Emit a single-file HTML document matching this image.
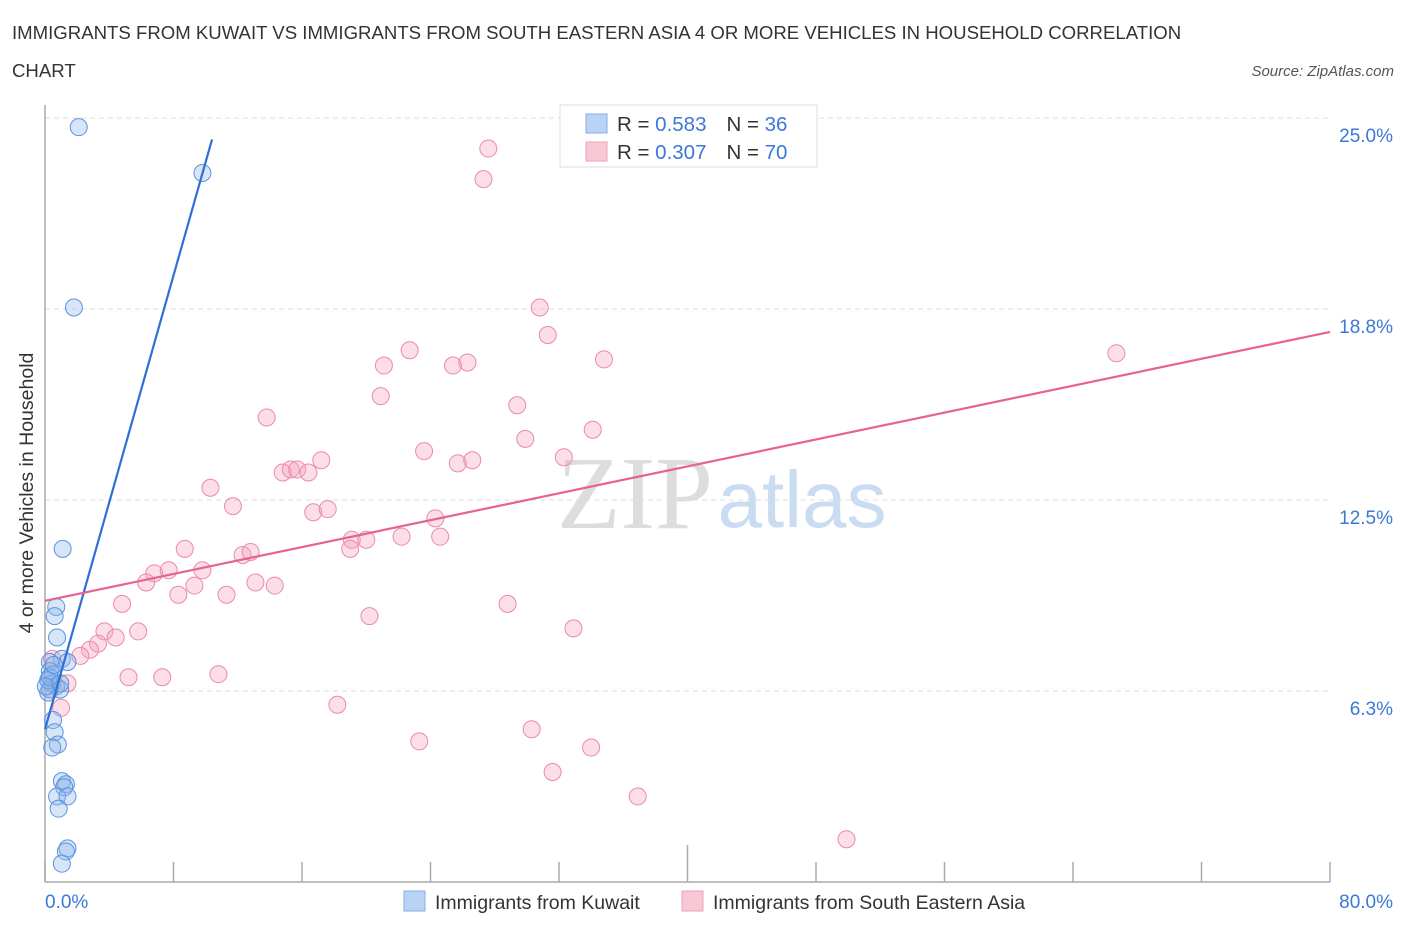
<!DOCTYPE html>
<html><head><meta charset="utf-8"><style>
body{margin:0;background:#fff;font-family:"Liberation Sans",sans-serif}
</style></head><body>
<svg width="1406" height="930" xmlns="http://www.w3.org/2000/svg">
<text x="12" y="39" font-size="18.6" fill="#333">IMMIGRANTS FROM KUWAIT VS IMMIGRANTS FROM SOUTH EASTERN ASIA 4 OR MORE VEHICLES IN HOUSEHOLD CORRELATION</text>
<text x="12" y="77" font-size="18.6" fill="#333">CHART</text>
<text x="1394" y="76" font-size="15" fill="#555" font-style="italic" text-anchor="end">Source: ZipAtlas.com</text>
<text x="635" y="528" font-size="104" fill="#ddd" font-family="Liberation Serif,serif" text-anchor="middle">ZIP</text>
<text x="802" y="527" font-size="80" fill="#c9dcf2" text-anchor="middle">atlas</text>
<g id="grid"></g>
<g id="axes"></g>
<g id="pts"></g>
<g id="lines"></g>
<text x="33" y="493" font-size="19.5" fill="#333" text-anchor="middle" transform="rotate(-90 33 493)">4 or more Vehicles in Household</text>
<text x="45" y="908" font-size="19" fill="#3b78d8">0.0%</text>
<text x="1393" y="908" font-size="19" fill="#3b78d8" text-anchor="end">80.0%</text>
<g>
<rect x="560" y="105" width="257" height="62" fill="#fff" stroke="#ddd"/>
<rect x="586" y="114" width="21" height="19" fill="#b9d3f5" stroke="#86aee6"/>
<rect x="586" y="142" width="21" height="19" fill="#f9c8d6" stroke="#eea0b7"/>
<text x="617" y="131" font-size="20.5" fill="#333">R = <tspan fill="#3b78d8">0.583</tspan><tspan dx="20">N = </tspan><tspan fill="#3b78d8">36</tspan></text>
<text x="617" y="159" font-size="20.5" fill="#333">R = <tspan fill="#3b78d8">0.307</tspan><tspan dx="20">N = </tspan><tspan fill="#3b78d8">70</tspan></text>
</g>
<g>
<rect x="404" y="891" width="21" height="20" fill="#b9d3f5" stroke="#86aee6"/>
<text x="435" y="909" font-size="19.5" fill="#333">Immigrants from Kuwait</text>
<rect x="682" y="891" width="21" height="20" fill="#f9c8d6" stroke="#eea0b7"/>
<text x="713" y="909" font-size="19.5" fill="#333">Immigrants from South Eastern Asia</text>
</g>
</svg>
<script>
const yTicks=[6.25,12.5,18.75,25];
const yTickLabels=["6.3%","12.5%","18.8%","25.0%"];
const xTicks=[0,8,16,24,32,40,48,56,64,72,80];
const kuwaitX=[2.1,9.8,1.8,1.1,0.7,0.6,0.75,1.05,0.3,1.4,0.3,0.5,0.2,0.45,0.7,0.95,0.3,0.2,0.5,0.6,0.8,0.45,1.05,1.3,1.2,0.75,1.4,0.85,1.4,1.3,1.05,0.2,0.3,0.05,0.55,0.95];
const kuwaitY=[24.7,23.2,18.8,10.9,9.0,8.7,8.0,7.3,7.2,7.2,6.9,6.8,6.6,6.5,6.4,6.3,6.3,6.2,5.3,4.9,4.5,4.4,3.3,3.2,3.1,2.8,2.8,2.4,1.1,1.0,0.6,6.6,6.7,6.4,7.1,6.5];
const seaX=[27.6,27.3,30.8,31.3,22.7,21.1,25.4,26.3,34.8,66.7,20.9,29.4,13.8,29.9,34.1,23.6,25.7,26.6,32.3,17.2,14.8,15.3,15.7,16.4,10.3,11.7,16.7,17.6,24.3,19.1,20.0,22.2,24.6,19.0,8.7,12.3,12.8,6.8,7.7,9.8,6.3,13.1,14.3,9.3,8.3,11.3,4.8,28.8,20.2,32.9,5.8,3.7,4.4,3.3,2.8,2.2,5.2,7.3,10.8,0.45,18.2,23.3,30.3,34.0,31.6,36.9,49.9,1.4,1.0,0.3];
const seaY=[24.0,23.0,18.8,17.9,17.4,16.9,16.9,17.0,17.1,17.3,15.9,15.6,15.2,14.5,14.8,14.1,13.7,13.8,13.9,13.8,13.4,13.5,13.5,13.4,12.9,12.3,12.1,12.2,11.9,11.2,11.2,11.3,11.3,10.9,10.9,10.7,10.8,10.1,10.2,10.2,9.8,9.8,9.7,9.7,9.4,9.4,9.1,9.1,8.7,8.3,8.2,8.2,8.0,7.8,7.6,7.4,6.7,6.7,6.8,7.3,5.8,4.6,5.0,4.4,3.6,2.8,1.4,6.5,5.7,6.3];
const kuwaitLineX=[0,10.4];const kuwaitLineY=[5.0,24.3];
const seaLineX=[0,80];const seaLineY=[9.2,18.0];
const X=v=>45+v/80*1285, Y=v=>882-v*30.56;
const NS="http://www.w3.org/2000/svg";
function mk(t,a,p){const e=document.createElementNS(NS,t);for(const k in a)e.setAttribute(k,a[k]);document.getElementById(p).appendChild(e);return e;}
yTicks.forEach((t,i)=>{
 const g=mk('line',{x1:45,x2:1330,y1:Y(t),y2:Y(t),stroke:'#ddd','stroke-dasharray':'5,4'},'grid');
 
 
 const l=mk('text',{x:1393,y:Y(t)+24,'font-size':19,fill:'#3b78d8','text-anchor':'end'},'grid');
 l.textContent=yTickLabels[i];
 
 
});
const ax=mk('line',{x1:45,x2:45,y1:105,y2:882,stroke:'#aaa','stroke-width':1.5},'axes');


const bx=mk('line',{x1:45,x2:1330,y1:882,y2:882,stroke:'#aaa','stroke-width':1.5},'axes');


xTicks.forEach((t,i)=>{
 const k=mk('line',{x1:X(t),x2:X(t),y1:i==5?845:862,y2:882,stroke:'#aaa','stroke-width':1.5},'axes');
 
 
});
seaX.forEach((v,i)=>{
 const c=mk('circle',{cx:X(v),cy:Y(seaY[i]),r:8.5,fill:'rgba(244,160,186,0.35)',stroke:'#ec8aa8','stroke-width':1},'pts');
 
 
});
kuwaitX.forEach((v,i)=>{
 const c=mk('circle',{cx:X(v),cy:Y(kuwaitY[i]),r:8.5,fill:'rgba(140,180,235,0.35)',stroke:'#5c93dd','stroke-width':1},'pts');
 
 
});
const bl=mk('line',{x1:X(kuwaitLineX[0]),y1:Y(kuwaitLineY[0]),x2:X(kuwaitLineX[1]),y2:Y(kuwaitLineY[1]),stroke:'#2f6fd6','stroke-width':2.2},'lines');


const pl=mk('line',{x1:X(seaLineX[0]),y1:Y(seaLineY[0]),x2:X(seaLineX[1]),y2:Y(seaLineY[1]),stroke:'#e5638c','stroke-width':2.2},'lines');


</script>
</body></html>
